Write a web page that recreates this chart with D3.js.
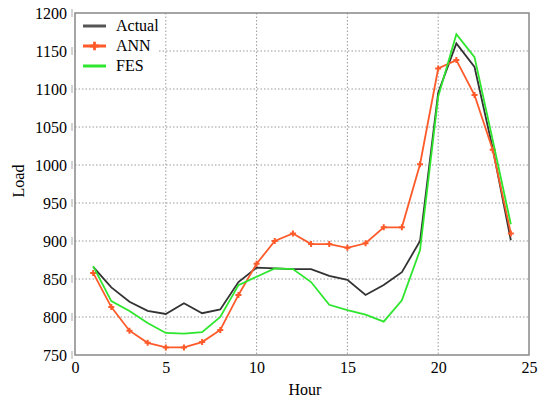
<!DOCTYPE html>
<html>
<head>
<meta charset="utf-8">
<script src="https://cdn.jsdelivr.net/npm/d3@7"></script>
<style>
body { margin: 0; background: #fff; }
</style>
</head>
<body>
<div class="chart"></div>
<script>
var svgWidth = 544;
var svgHeight = 401;
var serif = "'Liberation Serif', 'Times New Roman', serif";

var margin = { top: 13, right: 15, bottom: 46, left: 75 };
var width = svgWidth - margin.left - margin.right;
var height = svgHeight - margin.top - margin.bottom;

var hours = [1, 2, 3, 4, 5, 6, 7, 8, 9, 10, 11, 12, 13, 14, 15, 16, 17, 18, 19, 20, 21, 22, 23, 24];
var actual = [866, 839, 820, 808, 804, 818, 805, 810, 846, 865, 864, 863, 863, 854, 849, 829, 842, 859, 900, 1095, 1160, 1129, 1022, 901];
var ann = [858, 813, 782, 766, 760, 760, 767, 783, 829, 870, 900, 910, 896, 896, 891, 897, 918, 918, 1001, 1127, 1138, 1092, 1020, 910];
var fes = [867, 821, 808, 792, 779, 778, 780, 800, 842, 853, 864, 863, 846, 816, 809, 803, 794, 822, 888, 1090, 1172, 1142, 1033, 922];
var xTicks = [0, 5, 10, 15, 20, 25];
var yTicks = [750, 800, 850, 900, 950, 1000, 1050, 1100, 1150, 1200];

var series = [
    { name: "Actual", values: actual, color: "#333333", marker: false },
    { name: "ANN", values: ann, color: "#ff5a2a", marker: true },
    { name: "FES", values: fes, color: "#2ee62e", marker: false }
];

var svg = d3.select(".chart")
    .append("svg")
    .attr("width", svgWidth)
    .attr("height", svgHeight)
    .style("font-family", serif);

var chartGroup = svg.append("g")
    .attr("transform", `translate(${margin.left}, ${margin.top})`);

var xScale = d3.scaleLinear().domain([0, 25]).range([0, width]);
var yScale = d3.scaleLinear().domain([750, 1200]).range([height, 0]);

// grid
chartGroup.append("g")
    .selectAll("line")
    .data(xTicks.slice(1, -1))
    .enter()
    .append("line")
    .attr("x1", d => xScale(d))
    .attr("x2", d => xScale(d))
    .attr("y1", 0)
    .attr("y2", height)
    .attr("stroke", "#999")
    .attr("stroke-dasharray", "1.5,2");

chartGroup.append("g")
    .selectAll("line")
    .data(yTicks.slice(1, -1))
    .enter()
    .append("line")
    .attr("x1", 0)
    .attr("x2", width)
    .attr("y1", d => yScale(d))
    .attr("y2", d => yScale(d))
    .attr("stroke", "#999")
    .attr("stroke-dasharray", "1.5,2");

// frame
chartGroup.append("rect")
    .attr("width", width)
    .attr("height", height)
    .attr("fill", "none")
    .attr("stroke", "#888")
    .attr("stroke-width", 1.5);

// axes
var bottomAxis = d3.axisBottom(xScale).tickValues(xTicks).tickFormat(d3.format("d")).tickSize(0).tickPadding(7);
var leftAxis = d3.axisLeft(yScale).tickValues(yTicks).tickFormat(d3.format("d")).tickSize(0).tickPadding(8);

var xAxis = chartGroup.append("g")
    .attr("transform", `translate(0, ${height})`)
    .call(bottomAxis)
    .attr("font-family", serif)
    .attr("font-size", 16);
xAxis.select(".domain").remove();
xAxis.selectAll("text").attr("fill", "#000").style("font-family", serif);

var yAxis = chartGroup.append("g")
    .call(leftAxis)
    .attr("font-family", serif)
    .attr("font-size", 16);
yAxis.select(".domain").remove();
yAxis.selectAll("text").attr("fill", "#000").style("font-family", serif);

// small marks left of the frame
chartGroup.append("g")
    .selectAll("line")
    .data(yTicks)
    .enter()
    .append("line")
    .attr("x1", -3)
    .attr("x2", -3)
    .attr("y1", d => yScale(d) - 4)
    .attr("y2", d => yScale(d) + 4)
    .attr("stroke", "#aaa")
    .attr("stroke-width", 1);

chartGroup.append("text")
    .attr("transform", "rotate(-90)")
    .attr("x", -height / 2 + 3)
    .attr("y", -51)
    .attr("text-anchor", "middle")
    .attr("font-size", "16px")
    .text("Load");

chartGroup.append("text")
    .attr("x", width / 2 + 3)
    .attr("y", height + 40)
    .attr("text-anchor", "middle")
    .attr("font-size", "16px")
    .text("Hour");

// lines
var line = d3.line()
    .x((d, i) => xScale(hours[i]))
    .y(d => yScale(d));

var star = d3.symbol().type(d3.symbolCross).size(20);

series.forEach(function(s) {
    chartGroup.append("path")
        .datum(s.values)
        .attr("d", line)
        .attr("fill", "none")
        .attr("stroke", s.color)
        .attr("stroke-width", 1.8);

    if (s.marker) {
        chartGroup.append("g")
            .selectAll("path")
            .data(s.values)
            .enter()
            .append("path")
            .attr("d", star)
            .attr("transform", (d, i) => `translate(${xScale(hours[i])}, ${yScale(d)})`)
            .attr("fill", s.color);
    }
});

// legend
var legend = chartGroup.append("g")
    .attr("transform", "translate(1, 1)");

legend.append("rect")
    .attr("width", 82)
    .attr("height", 62)
    .attr("fill", "#fff");

series.forEach(function(s, i) {
    var ly = 11 + i * 20;
    legend.append("line")
        .attr("x1", 7)
        .attr("x2", 30)
        .attr("y1", ly + 1)
        .attr("y2", ly + 1)
        .attr("stroke", s.name === "Actual" ? "#555" : s.color)
        .attr("stroke-width", 3);
    if (s.marker) {
        legend.append("path")
            .attr("d", d3.symbol().type(d3.symbolCross).size(40))
            .attr("transform", `translate(18.5, ${ly + 1})`)
            .attr("fill", s.color);
    }
    legend.append("text")
        .attr("x", 40)
        .attr("y", ly + 6)
        .attr("font-size", "16px")
        .text(s.name);
});
</script>
</body>
</html>
